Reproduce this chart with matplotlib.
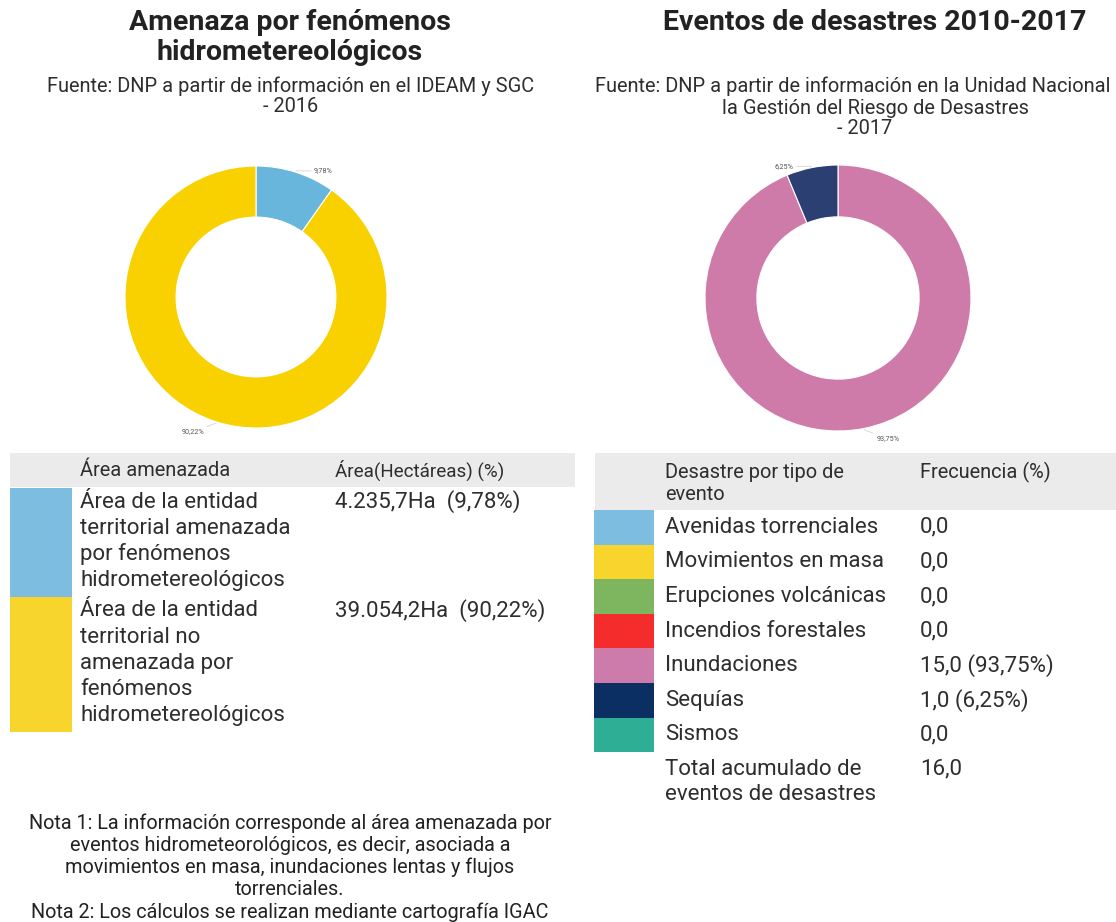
import matplotlib
matplotlib.use("Agg")
import numpy as np
import matplotlib.pyplot as plt
from matplotlib.patches import Rectangle

plt.rcParams['font.family'] = ['Roboto', 'DejaVu Sans']

# ---------------- data ----------------
title_left = ["Amenaza por fenómenos", "hidrometereológicos"]
source_left = ["Fuente: DNP a partir de información en el IDEAM y SGC", "- 2016"]
area_categories = ["Área de la entidad\nterritorial amenazada\npor fenómenos\nhidrometereológicos",
                   "Área de la entidad\nterritorial no\namenazada por\nfenómenos\nhidrometereológicos"]
area_hectares = [4235.7, 39054.2]
area_colors_pie = ["#68B6DC", "#F9D100"]
area_colors_table = ["#7DBEE0", "#F8D52C"]
area_headers = ["Área amenazada", "Área(Hectáreas) (%)"]

title_right = "Eventos de desastres 2010-2017"
source_right = ["Fuente: DNP a partir de información en la Unidad Nacional para",
                "la Gestión del Riesgo de Desastres", "- 2017"]
event_categories = ["Avenidas torrenciales", "Movimientos en masa", "Erupciones volcánicas",
                    "Incendios forestales", "Inundaciones", "Sequías", "Sismos"]
event_counts = [0, 0, 0, 0, 15, 1, 0]
event_colors_table = ["#7DBEE0", "#F8D52C", "#7DB65F", "#F42C2C", "#CC7BAB", "#0B2F63", "#2EAE95"]
event_colors_pie = ["#68B6DC", "#F9D100", "#7DB65F", "#F42C2C", "#CF7BAA", "#2C3F73", "#2EAE95"]
event_headers = ["Desastre por tipo de", "evento"]
event_value_header = "Frecuencia (%)"
total_label = ["Total acumulado de", "eventos de desastres"]

notes = ["Nota 1: La información corresponde al área amenazada por",
         "eventos hidrometeorológicos, es decir, asociada a",
         "movimientos en masa, inundaciones lentas y flujos",
         "torrenciales.",
         "Nota 2: Los cálculos se realizan mediante cartografía IGAC"]

TXT = "#2E2E2E"
W, H = 1116, 922
FS_TITLE = 20.5
FS_SRC = 14.4
FS_HEAD = 14.4
FS_BODY = 16
FS_NOTE = 14.3


def es_num(v, dec=1, thousands=True):
    s = f"{v:,.{dec}f}" if thousands else f"{v:.{dec}f}"
    return s.replace(",", "X").replace(".", ",").replace("X", ".")


fig = plt.figure(figsize=(W / 100, H / 100), dpi=100)
fig.patch.set_facecolor("white")

ov = fig.add_axes([0, 0, 1, 1])
ov.set_xlim(0, W)
ov.set_ylim(H, 0)
ov.axis("off")


def donut(cx, cy, r, values, colors, label_fs=5.2):
    ax = fig.add_axes([(cx - r) / W, (H - cy - r) / H, 2 * r / W, 2 * r / H])
    tot = sum(values)
    wedges, _ = ax.pie(values, colors=colors, startangle=90, counterclock=False, radius=1.0,
                       wedgeprops=dict(width=0.39, edgecolor="white", linewidth=0.8))
    for w, v in zip(wedges, values):
        ang = np.deg2rad((w.theta1 + w.theta2) / 2)
        x, y = np.cos(ang), np.sin(ang)
        sx = 1 if x >= 0 else -1
        dy = -9 if y < 0 else 0
        dx = 18 if y >= 0 else 12
        ax.annotate(es_num(v / tot * 100, 2, False) + "%", xy=(x * 1.01, y * 1.01),
                    xytext=(sx * dx, dy), textcoords="offset pixels",
                    ha="left" if sx > 0 else "right", va="center",
                    fontsize=label_fs, color="#555555", annotation_clip=False,
                    arrowprops=dict(arrowstyle="-", color="#CCCCCC", lw=0.5,
                                    shrinkA=0, shrinkB=0))
    ax.set_xlim(-1, 1)
    ax.set_ylim(-1, 1)
    ax.set_aspect("equal")
    return ax


# ---------------- left panel ----------------
for i, ln in enumerate(title_left):
    ov.text(290, 22 + i * 30, ln, ha="center", va="center", fontsize=FS_TITLE,
            fontweight="bold", color="#222222")
ov.text(291, 86, source_left[0], ha="center", va="center", fontsize=FS_SRC, color=TXT)
ov.text(291, 107, source_left[1], ha="center", va="center", fontsize=FS_SRC, color=TXT)

donut(256, 297, 131, area_hectares, area_colors_pie)

# table header
ov.add_patch(Rectangle((10, 453), 565, 34, facecolor="#EBEBEB", edgecolor="none"))
ov.text(80, 470, area_headers[0], ha="left", va="center", fontsize=FS_HEAD, color=TXT)
ov.text(335, 470, area_headers[1], ha="left", va="center", fontsize=FS_HEAD - 0.8, color=TXT)

tot_area = sum(area_hectares)
lh = 26.2
y = 488
for cat, ha_v, col in zip(area_categories, area_hectares, area_colors_table):
    lines = cat.split("\n")
    rh = len(lines) * lh + 4
    ov.add_patch(Rectangle((10, y), 62, rh, facecolor=col, edgecolor="none"))
    for i, ln in enumerate(lines):
        ov.text(80, y + 14 + i * lh, ln, ha="left", va="center", fontsize=FS_BODY, color=TXT)
    ov.text(335, y + 14, f"{es_num(ha_v)}Ha  ({es_num(ha_v / tot_area * 100, 2, False)}%)",
            ha="left", va="center", fontsize=FS_BODY, color=TXT)
    y += rh

for i, ln in enumerate(notes):
    ov.text(290, 823 + i * 22.2, ln, ha="center", va="center", fontsize=FS_NOTE, color="#222222")

# ---------------- right panel ----------------
ov.text(875, 22, title_right, ha="center", va="center", fontsize=FS_TITLE, fontweight="bold",
        color="#222222")
ov.text(875, 86, source_right[0], ha="center", va="center", fontsize=FS_SRC, color=TXT)
ov.text(875, 108, source_right[1], ha="center", va="center", fontsize=FS_SRC, color=TXT)
ov.text(865, 129, source_right[2], ha="center", va="center", fontsize=FS_SRC, color=TXT)

nz = [(v, c) for v, c in zip(event_counts, event_colors_pie) if v > 0]
donut(838, 298, 133, [v for v, _ in nz], [c for _, c in nz])

ov.add_patch(Rectangle((595, 453), W - 595, 57, facecolor="#EBEBEB", edgecolor="none"))
for i, ln in enumerate(event_headers):
    ov.text(665, 472 + i * 22, ln, ha="left", va="center", fontsize=FS_HEAD, color=TXT)
ov.text(920, 472, event_value_header, ha="left", va="center", fontsize=FS_HEAD, color=TXT)

tot_ev = sum(event_counts)
rh = 34.6
y = 510
for cat, v, col in zip(event_categories, event_counts, event_colors_table):
    ov.add_patch(Rectangle((594, y), 60, rh, facecolor=col, edgecolor="none"))
    ov.text(665, y + rh / 2, cat, ha="left", va="center", fontsize=FS_BODY, color=TXT)
    val = es_num(v)
    if v > 0:
        val += f" ({es_num(v / tot_ev * 100, 2, False)}%)"
    ov.text(920, y + rh / 2, val, ha="left", va="center", fontsize=FS_BODY, color=TXT)
    y += rh
for i, ln in enumerate(total_label):
    ov.text(665, y + 17 + i * 25, ln, ha="left", va="center", fontsize=FS_BODY, color=TXT)
ov.text(920, y + 17, es_num(tot_ev), ha="left", va="center", fontsize=FS_BODY, color=TXT)

fig.savefig("out.png", dpi=100)
